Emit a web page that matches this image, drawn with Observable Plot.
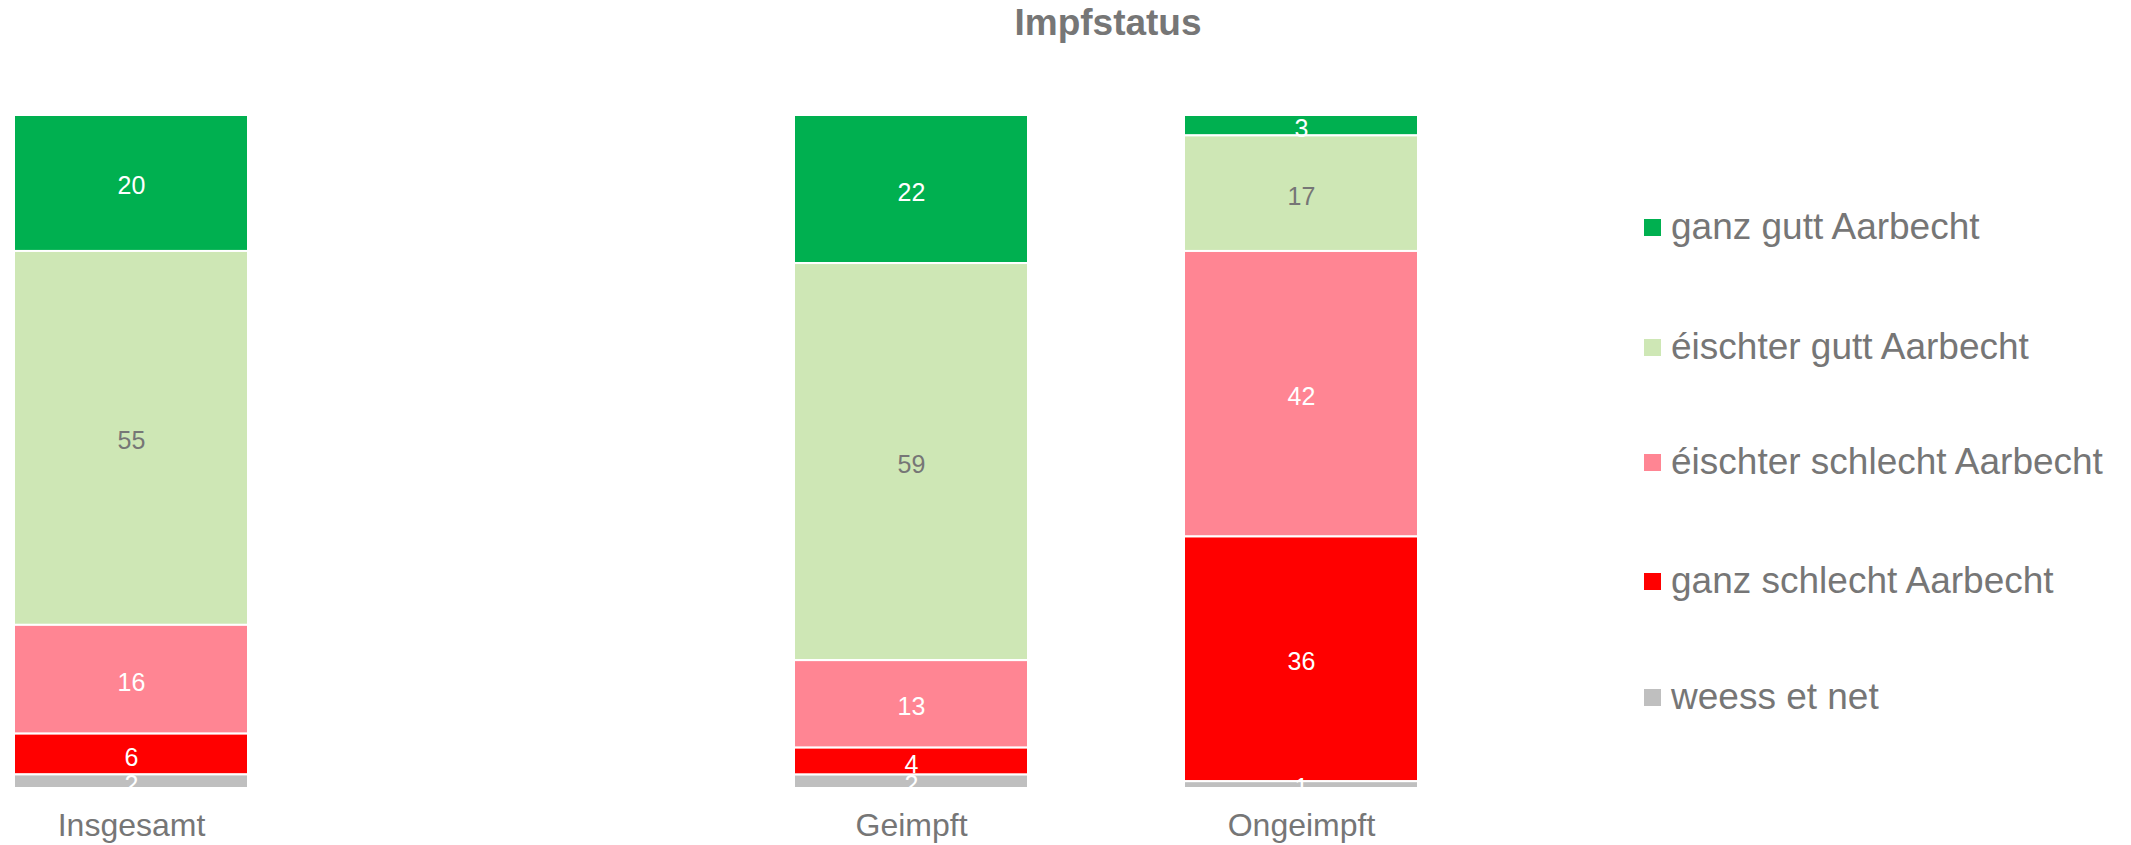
<!DOCTYPE html>
<html>
<head>
<meta charset="utf-8">
<script src="https://cdn.jsdelivr.net/npm/d3@7"></script>
<script src="https://cdn.jsdelivr.net/npm/@observablehq/plot@0.6"></script>
<style>
  html, body { margin: 0; padding: 0; background: #fff; }
  #wrap { position: relative; width: 2131px; height: 845px; font-family: "Liberation Sans", Arial, sans-serif; }
  #title { position: absolute; left: 0; width: 2216px; top: 2px; text-align: center; font-weight: bold; font-size: 37px; color: #767676; }
  #legend { position: absolute; left: 1644px; top: 0; }
  .item { position: absolute; left: 0; white-space: nowrap; font-size: 37px; color: #767676; display: flex; align-items: center; }
  .sw { width: 17px; height: 17px; margin-right: 10px; flex: none; }
  #chart { position: absolute; left: 0; top: 0; }
</style>
</head>
<body>
<div id="wrap">
  <div id="chart"></div>
  <div id="title">Impfstatus</div>
  <div id="legend"></div>
</div>
<script>
const categories = ["Insgesamt", "", "Geimpft", "Ongeimpft"];
const series = ["ganz gutt Aarbecht", "éischter gutt Aarbecht", "éischter schlecht Aarbecht", "ganz schlecht Aarbecht", "weess et net"];
const colors = ["#00B050", "#CEE7B5", "#FF8593", "#FF0000", "#BFBFBF"];
const labelColors = ["#ffffff", "#767676", "#ffffff", "#ffffff", "#ffffff"];
const insgesamt = [20, 55, 16, 6, 2];
const geimpft = [22, 59, 13, 4, 2];
const ongeimpft = [3, 17, 42, 36, 1];

const rows = [];
[["Insgesamt", insgesamt], ["Geimpft", geimpft], ["Ongeimpft", ongeimpft]].forEach(([cat, vals]) => {
  vals.forEach((v, i) => rows.push({cat, series: series[i], value: v, labelColor: labelColors[i]}));
});

const order = series.slice().reverse();

const chart = Plot.plot({
  width: 2131,
  height: 845,
  marginTop: 115,
  marginBottom: 57,
  marginLeft: 14,
  marginRight: 713,
  style: {fontFamily: "Liberation Sans, Arial, sans-serif", background: "transparent"},
  x: {domain: categories, paddingInner: 0.4, paddingOuter: 0, label: null},
  y: {domain: [0, 1], axis: null},
  color: {domain: series, range: colors},
  marks: [
    Plot.barY(rows, Plot.stackY({offset: "normalize", order, x: "cat", y: "value", z: "series", fill: "series", stroke: "white", strokeWidth: 2})),
    Plot.text(rows, Plot.stackY({offset: "normalize", order, x: "cat", y: "value", z: "series", text: d => String(d.value), fill: "labelColor", fontSize: 25, dy: 3})),
    Plot.axisX({tickSize: 0, tickPadding: 25, fontSize: 32, color: "#767676", label: null})
  ]
});
document.getElementById("chart").appendChild(chart);

const legend = document.getElementById("legend");
const legendY = [227, 347, 462, 581, 697];
series.forEach((s, i) => {
  const it = document.createElement("div");
  it.className = "item";
  it.style.top = (legendY[i] - 25) + "px";
  it.style.height = "50px";
  const sw = document.createElement("span");
  sw.className = "sw";
  sw.style.background = colors[i];
  const tx = document.createElement("span");
  tx.textContent = s;
  it.appendChild(sw);
  it.appendChild(tx);
  legend.appendChild(it);
});
</script>
</body>
</html>
